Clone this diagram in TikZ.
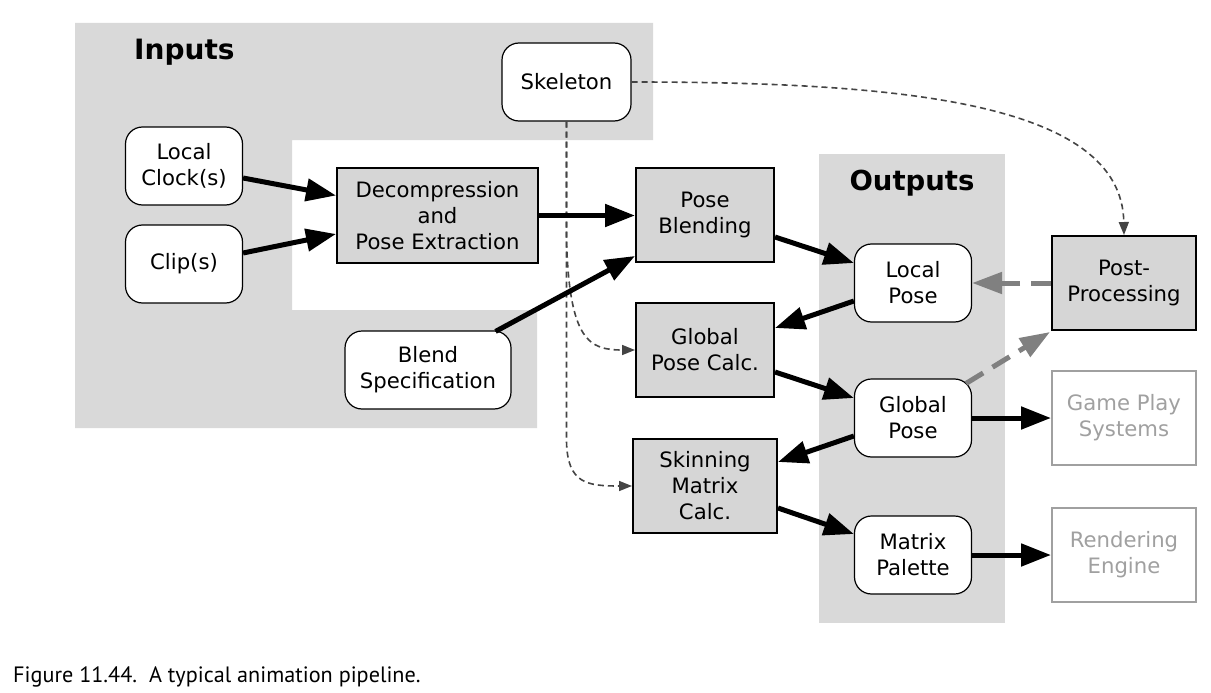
\documentclass[tikz,border=0pt]{standalone}
\usepackage{fontspec}
\setmainfont{DejaVu Sans}
\newfontfamily\capfont{PT Sans}
\usetikzlibrary{arrows.meta,calc}
\definecolor{regiongray}{HTML}{D9D9D9}
\definecolor{boxgray}{HTML}{D6D6D6}
\definecolor{dashgray}{HTML}{444444}
\definecolor{thickgray}{HTML}{808080}
\definecolor{fadegray}{HTML}{A0A0A0}
\tikzset{
  every node/.style={font=\fontsize{21.2}{26}\selectfont, align=center, inner sep=0pt},
  rbox/.style={draw=black, fill=white, rounded corners=17pt, line width=1.2pt, minimum width=117pt, minimum height=78pt},
  sbox/.style={draw=black, fill=boxgray, line width=2pt, minimum width=138pt, minimum height=94pt},
  obox/.style={draw=fadegray, fill=white, text=fadegray, line width=2pt, minimum width=144pt, minimum height=94pt},
  flow/.style={line width=5pt, -{Triangle[length=30pt,width=22pt]}},
  gflow/.style={line width=5pt, color=thickgray, dash pattern=on 20pt off 11pt, -{Triangle[length=30pt,width=21pt]}},
  dflow/.style={line width=1.6pt, color=dashgray, dash pattern=on 6pt off 4pt, -{Triangle[length=13pt,width=10pt]}},
  title/.style={font=\fontsize{28}{32}\bfseries\selectfont}
}
\begin{document}
\begin{tikzpicture}[x=1pt,y=-1pt]
\useasboundingbox (0,0) rectangle (1211,693);
% regions
\fill[regiongray] (75,23) -- (653,23) -- (653,140) -- (292,140) -- (292,310) -- (537,310) -- (537,428) -- (75,428) -- cycle;
\fill[regiongray] (819,154) rectangle (1005,623);
\node[title, anchor=base west] (inputs) at (134,60) {Inputs};
\node[title, font=\fontsize{27.5}{32}\bfseries\selectfont, anchor=base] (outputs) at (912,190) {Outputs};
% nodes
\node[rbox, minimum width=129pt] (skel) at (566.5,82) {Skeleton};
\node[rbox] (clock) at (184,166) {Local\\Clock(s)};
\node[rbox] (clip) at (184,264) {Clip(s)};
\node[sbox, minimum width=201pt, minimum height=95pt] (decomp) at (437.5,215.5) {Decompression\\and\\Pose Extraction};
\node[rbox, minimum width=166pt] (spec) at (428,370) {Blend\\Specification};
\node[sbox] (pb) at (705,215) {Pose\\Blending};
\node[sbox] (gpc) at (705,350) {Global\\Pose Calc.};
\node[sbox, minimum width=144pt] (skin) at (705,486) {Skinning\\Matrix\\Calc.};
\node[rbox] (lp) at (913,283) {Local\\Pose};
\node[rbox] (gp) at (913,418) {Global\\Pose};
\node[rbox] (mp) at (913,555) {Matrix\\Palette};
\node[sbox, minimum width=144pt] (post) at (1124,283) {Post-\\Processing};
\node[obox] (game) at (1124,418) {Game Play\\Systems};
\node[obox] (render) at (1124,555) {Rendering\\Engine};
% thin dashed skeleton links
\draw[dflow] (skel.east) .. controls (900,82) and (1122,102) .. (post.north);
\draw[dflow] (skel.south) -- ($(skel.south)+(0,119)$) .. controls ($(skel.south)+(3,219)$) and ($(gpc.west)+(-46,0)$) .. (gpc.west);
\draw[dflow] (skel.south) -- ($(skel.south)+(0,320)$) .. controls ($(skel.south)+(1,362)$) and ($(skin.west)+(-45,0)$) .. (skin.west);
% main flows
\draw[flow] ($(clock.east)+(0,12)$) -- ($(decomp.west)+(0,-20)$);
\draw[flow] ($(clip.east)+(0,-11)$) -- ($(decomp.west)+(0,18.5)$);
\draw[flow] (decomp.east) -- (decomp.east -| pb.west);
\draw[flow] ($(spec.north east)+(-16,1)$) -- ($(pb.south west)+(0,-7)$);
\draw[flow] ($(pb.east)+(0,22)$) -- ($(lp.west)+(0,-20)$);
\draw[flow] ($(lp.west)+(0,18)$) -- ($(gpc.east)+(0,-22)$);
\draw[flow] ($(gpc.east)+(0,22)$) -- ($(gp.west)+(0,-20)$);
\draw[flow] ($(gp.west)+(0,18)$) -- ($(skin.east)+(0,-24)$);
\draw[flow] ($(skin.east)+(0,22)$) -- ($(mp.west)+(0,-21)$);
\draw[flow] (gp.east) -- (gp.east -| game.west);
\draw[flow] (mp.east) -- (mp.east -| render.west);
% gray dashed flows
\draw[gflow] (post.west) -- (lp.east);
\draw[gflow] ($(gp.north east)+(-6,5)$) -- ($(post.south west)+(-1,1)$);
% caption
\node[anchor=base west, font=\capfont\fontsize{22.2}{26}\selectfont] (caption) at (13,682) {Figure 11.44.\ \ A typical animation pipeline.};
\end{tikzpicture}
\end{document}
